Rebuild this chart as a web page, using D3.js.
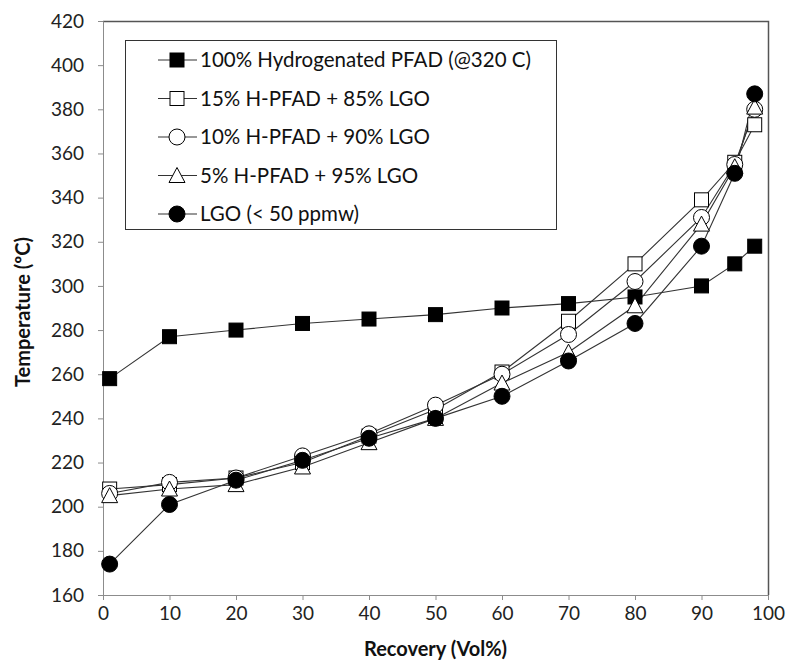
<!DOCTYPE html>
<html>
<head>
<meta charset="utf-8">
<script src="https://cdn.jsdelivr.net/npm/d3@7"></script>
<style>
  body { margin: 0; background: #fff; }
  svg { display: block; font-family: Lato, "Liberation Sans", sans-serif; }
</style>
</head>
<body>
<svg id="chart" width="787" height="669"></svg>
<script>
// recovery points (vol%)
var recovery = [1, 10, 20, 30, 40, 50, 60, 70, 80, 90, 95, 98]

var pfad100 = [258, 277, 280, 283, 285, 287, 290, 292, 295, 300, 310, 318]
var hpfad15 = [208, 210, 213, 220, 232, 244, 261, 284, 310, 339, 356, 373]
var hpfad10 = [206, 211, 213, 223, 233, 246, 260, 278, 302, 331, 355, 380]
var hpfad5 = [205, 208, 210, 218, 229, 240, 256, 270, 291, 328, 354, 381]
var lgo = [174, 201, 212, 221, 231, 240, 250, 266, 283, 318, 351, 387]

var seriesNames = [
  '100% Hydrogenated PFAD (@320 C)',
  '15% H-PFAD + 85% LGO',
  '10% H-PFAD + 90% LGO',
  '5% H-PFAD + 95% LGO',
  'LGO (< 50 ppmw)'
]
var seriesValues = [pfad100, hpfad15, hpfad10, hpfad5, lgo]
var seriesMarkers = ['square', 'square', 'circle', 'triangle', 'circle']
var seriesFilled = [true, false, false, false, true]

var xTicks = [0, 10, 20, 30, 40, 50, 60, 70, 80, 90, 100]
var yTicks = [160, 180, 200, 220, 240, 260, 280, 300, 320, 340, 360, 380, 400, 420]

var svg = d3.select('#chart'),
  margin = { top: 21, right: 19, bottom: 74, left: 103 },
  width = +svg.attr('width') - margin.left - margin.right,
  height = +svg.attr('height') - margin.top - margin.bottom

var x = d3.scaleLinear().domain([0, 100]).range([0, width]),
  y = d3.scaleLinear().domain([160, 420]).range([height, 0])

var g = svg
  .append('g')
  .attr('transform', 'translate(' + margin.left + ',' + margin.top + ')')

// frame top + right
g.append('path')
  .attr('d', 'M0,0.5H' + (width + 0.5) + 'V' + height)
  .attr('fill', 'none')
  .attr('stroke', '#555')
  .attr('stroke-width', 1.5)

var yAxis = g
  .append('g')
  .call(d3.axisLeft(y).tickValues(yTicks).tickSize(5).tickPadding(14))
var xAxis = g
  .append('g')
  .attr('transform', 'translate(0,' + height + ')')
  .call(d3.axisBottom(x).tickValues(xTicks).tickSize(5).tickPadding(7))

;[yAxis, xAxis].forEach(function (ax) {
  ax.selectAll('path,line').attr('stroke', '#8c8c8c')
  ax.selectAll('text')
    .attr('font-size', 19)
    .attr('font-family', 'Lato, sans-serif')
    .attr('fill', '#222')
})

svg.append('text')
  .attr('transform', 'translate(30,' + (margin.top + height / 2 + 4) + ') rotate(-90)')
  .attr('text-anchor', 'middle')
  .attr('font-size', 20)
  .attr('font-weight', 'bold')
  .attr('fill', '#111')
  .text('Temperature (ºC)')

svg.append('text')
  .attr('x', margin.left + width / 2)
  .attr('y', 656)
  .attr('text-anchor', 'middle')
  .attr('font-size', 20)
  .attr('font-weight', 'bold')
  .attr('fill', '#111')
  .text('Recovery (Vol%)')

function drawMarker(sel, kind, filled) {
  var fill = filled ? '#000' : '#fff'
  if (kind === 'square') {
    sel.append('rect')
      .attr('x', -7).attr('y', -7).attr('width', 14).attr('height', 14)
      .attr('fill', fill).attr('stroke', '#000').attr('stroke-width', 1)
  } else if (kind === 'circle') {
    sel.append('circle')
      .attr('r', 8)
      .attr('fill', fill).attr('stroke', '#000').attr('stroke-width', 1)
  } else {
    sel.append('path')
      .attr('d', 'M0,-8L8,7H-8Z')
      .attr('fill', fill).attr('stroke', '#000').attr('stroke-width', 1)
  }
}

var line = d3.line()
  .x(function (d, i) { return x(recovery[i]) })
  .y(function (d) { return y(d) })

seriesValues.forEach(function (vals, s) {
  g.append('path')
    .datum(vals)
    .attr('d', line)
    .attr('fill', 'none')
    .attr('stroke', '#333')
    .attr('stroke-width', 1.1)
})

seriesValues.forEach(function (vals, s) {
  var pts = g.append('g').selectAll('g')
    .data(vals)
    .enter()
    .append('g')
    .attr('transform', function (d, i) {
      return 'translate(' + x(recovery[i]) + ',' + y(d) + ')'
    })
  drawMarker(pts, seriesMarkers[s], seriesFilled[s])
})

// legend
var lg = svg.append('g').attr('transform', 'translate(125,40)')
lg.append('rect')
  .attr('x', 0.5).attr('y', 0.5).attr('width', 431).attr('height', 189)
  .attr('fill', '#fff').attr('stroke', '#333').attr('stroke-width', 1)

seriesNames.forEach(function (name, s) {
  var row = lg.append('g').attr('transform', 'translate(0,' + (20 + s * 38.5) + ')')
  row.append('line')
    .attr('x1', 33).attr('x2', 72)
    .attr('stroke', '#333').attr('stroke-width', 1.1)
  var m = row.append('g').attr('transform', 'translate(52,0)')
  drawMarker(m, seriesMarkers[s], seriesFilled[s])
  row.append('text')
    .attr('x', 75).attr('dy', '0.35em')
    .attr('font-size', 20.5)
    .attr('fill', '#111')
    .text(name)
})
</script>
</body>
</html>
